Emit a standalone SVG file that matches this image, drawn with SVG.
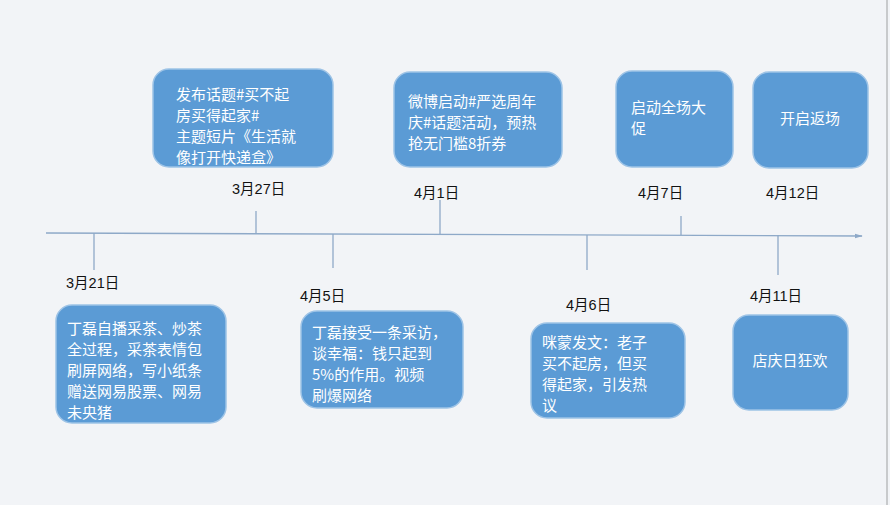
<svg xmlns="http://www.w3.org/2000/svg" width="890" height="505" viewBox="0 0 890 505">
<defs>
<style>
.b{fill:#5b9bd5;stroke:#9dc3e6;stroke-width:1.5}
.t{font-family:"Noto Sans CJK SC","Liberation Sans",sans-serif;font-size:15px;fill:#fff}
.d{font-family:"Liberation Sans","Noto Sans CJK SC",sans-serif;font-size:14.5px;fill:#111}
.l{stroke:#8ea9c8;stroke-width:1.3;fill:none}
</style>
<marker id="a" viewBox="0 0 10 10" refX="9" refY="5" markerWidth="6" markerHeight="6" orient="auto"><path d="M0,2 L10,5 L0,8z" fill="#8ea9c8"/></marker>
</defs>
<rect width="890" height="505" fill="#f2f4f7"/>
<line x1="887" y1="0" x2="887" y2="505" stroke="#c8cacc" stroke-width="2"/>
<g id="connectors">
<line class="l" x1="46" y1="233" x2="862" y2="236" marker-end="url(#a)"/>
<line class="l" x1="94" y1="233" x2="94" y2="270"/>
<line class="l" x1="256" y1="234" x2="256" y2="211"/>
<line class="l" x1="333" y1="234" x2="333" y2="268"/>
<line class="l" x1="440" y1="235" x2="440" y2="200"/>
<line class="l" x1="587" y1="235" x2="587" y2="270"/>
<line class="l" x1="681" y1="235" x2="681" y2="216"/>
<line class="l" x1="778" y1="235" x2="778" y2="275"/>
</g>
<g id="n1"><rect class="b" x="153" y="69" width="180" height="98" rx="16"/>
<text class="t"><tspan x="176" y="100">发布话题#买不起</tspan><tspan x="176" y="121">房买得起家#</tspan><tspan x="176" y="142">主题短片《生活就</tspan><tspan x="176" y="163">像打开快递盒》</tspan></text>
<text class="d" x="232" y="194">3月27日</text></g>
<g id="n2"><rect class="b" x="394" y="72" width="168" height="95" rx="16"/>
<text class="t"><tspan x="408" y="107">微博启动#严选周年</tspan><tspan x="408" y="128">庆#话题活动，预热</tspan><tspan x="408" y="149">抢无门槛8折券</tspan></text>
<text class="d" x="414" y="198">4月1日</text></g>
<g id="n3"><rect class="b" x="616" y="71" width="117" height="96" rx="16"/>
<text class="t"><tspan x="631" y="113">启动全场大</tspan><tspan x="631" y="134">促</tspan></text>
<text class="d" x="638" y="198">4月7日</text></g>
<g id="n4"><rect class="b" x="753" y="72" width="115" height="96" rx="16"/>
<text class="t" x="810" y="124" text-anchor="middle">开启返场</text>
<text class="d" x="766" y="198">4月12日</text></g>
<g id="n5"><rect class="b" x="56" y="305" width="170" height="118" rx="16"/>
<text class="t"><tspan x="67" y="334">丁磊自播采茶、炒茶</tspan><tspan x="67" y="355">全过程，采茶表情包</tspan><tspan x="67" y="376">刷屏网络，写小纸条</tspan><tspan x="67" y="397">赠送网易股票、网易</tspan><tspan x="67" y="418">未央猪</tspan></text>
<text class="d" x="66" y="288">3月21日</text></g>
<g id="n6"><rect class="b" x="301" y="311" width="162" height="97" rx="16"/>
<text class="t"><tspan x="312" y="338">丁磊接受一条采访，</tspan><tspan x="312" y="359">谈幸福：钱只起到</tspan><tspan x="312" y="380">5%的作用。视频</tspan><tspan x="312" y="401">刷爆网络</tspan></text>
<text class="d" x="300" y="301">4月5日</text></g>
<g id="n7"><rect class="b" x="531" y="323" width="154" height="95" rx="16"/>
<text class="t"><tspan x="542" y="348">咪蒙发文：老子</tspan><tspan x="542" y="369">买不起房，但买</tspan><tspan x="542" y="390">得起家，引发热</tspan><tspan x="542" y="411">议</tspan></text>
<text class="d" x="566" y="310">4月6日</text></g>
<g id="n8"><rect class="b" x="733" y="315" width="115" height="95" rx="16"/>
<text class="t" x="790" y="366" text-anchor="middle">店庆日狂欢</text>
<text class="d" x="750" y="301">4月11日</text></g>
</svg>
